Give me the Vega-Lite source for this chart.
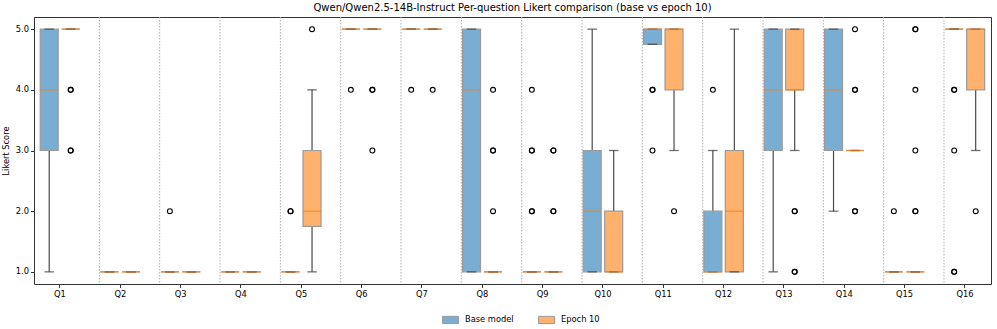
{
  "$schema": "https://vega.github.io/schema/vega-lite/v6.json",
  "width": 957,
  "height": 267,
  "autosize": {"type": "none"},
  "padding": {"left": 34, "top": 17, "right": 6, "bottom": 45},
  "title": {"text": "Qwen/Qwen2.5-14B-Instruct Per-question Likert comparison (base vs epoch 10)", "font": "DejaVu Sans", "fontSize": 10, "fontWeight": "normal", "color": "#000", "offset": 4, "anchor": "middle"},
  "config": {
    "font": "DejaVu Sans",
    "view": {"stroke": "#333", "strokeWidth": 1},
    "axis": {"grid": false, "domain": false, "labelFont": "DejaVu Sans", "labelFontSize": 8.3, "labelColor": "#000", "tickColor": "#333", "tickSize": 3.5, "titleFont": "DejaVu Sans", "titleFontSize": 8.3, "titleFontWeight": "normal", "titleColor": "#000"},
    "legend": {"labelFont": "DejaVu Sans", "labelFontSize": 8.3, "labelColor": "#000"}
  },
  "datasets": {
    "boxes": [
      {"question": "Q1", "group": "Base model", "lo": 1, "q1": 3, "median": 4, "q3": 5, "hi": 5},
      {"question": "Q1", "group": "Epoch 10", "lo": 5, "q1": 5, "median": 5, "q3": 5, "hi": 5},
      {"question": "Q2", "group": "Base model", "lo": 1, "q1": 1, "median": 1, "q3": 1, "hi": 1},
      {"question": "Q2", "group": "Epoch 10", "lo": 1, "q1": 1, "median": 1, "q3": 1, "hi": 1},
      {"question": "Q3", "group": "Base model", "lo": 1, "q1": 1, "median": 1, "q3": 1, "hi": 1},
      {"question": "Q3", "group": "Epoch 10", "lo": 1, "q1": 1, "median": 1, "q3": 1, "hi": 1},
      {"question": "Q4", "group": "Base model", "lo": 1, "q1": 1, "median": 1, "q3": 1, "hi": 1},
      {"question": "Q4", "group": "Epoch 10", "lo": 1, "q1": 1, "median": 1, "q3": 1, "hi": 1},
      {"question": "Q5", "group": "Base model", "lo": 1, "q1": 1, "median": 1, "q3": 1, "hi": 1},
      {"question": "Q5", "group": "Epoch 10", "lo": 1, "q1": 1.75, "median": 2, "q3": 3, "hi": 4},
      {"question": "Q6", "group": "Base model", "lo": 5, "q1": 5, "median": 5, "q3": 5, "hi": 5},
      {"question": "Q6", "group": "Epoch 10", "lo": 5, "q1": 5, "median": 5, "q3": 5, "hi": 5},
      {"question": "Q7", "group": "Base model", "lo": 5, "q1": 5, "median": 5, "q3": 5, "hi": 5},
      {"question": "Q7", "group": "Epoch 10", "lo": 5, "q1": 5, "median": 5, "q3": 5, "hi": 5},
      {"question": "Q8", "group": "Base model", "lo": 1, "q1": 1, "median": 4, "q3": 5, "hi": 5},
      {"question": "Q8", "group": "Epoch 10", "lo": 1, "q1": 1, "median": 1, "q3": 1, "hi": 1},
      {"question": "Q9", "group": "Base model", "lo": 1, "q1": 1, "median": 1, "q3": 1, "hi": 1},
      {"question": "Q9", "group": "Epoch 10", "lo": 1, "q1": 1, "median": 1, "q3": 1, "hi": 1},
      {"question": "Q10", "group": "Base model", "lo": 1, "q1": 1, "median": 2, "q3": 3, "hi": 5},
      {"question": "Q10", "group": "Epoch 10", "lo": 1, "q1": 1, "median": 1, "q3": 2, "hi": 3},
      {"question": "Q11", "group": "Base model", "lo": 4.75, "q1": 4.75, "median": 5, "q3": 5, "hi": 5},
      {"question": "Q11", "group": "Epoch 10", "lo": 3, "q1": 4, "median": 5, "q3": 5, "hi": 5},
      {"question": "Q12", "group": "Base model", "lo": 1, "q1": 1, "median": 1, "q3": 2, "hi": 3},
      {"question": "Q12", "group": "Epoch 10", "lo": 1, "q1": 1, "median": 2, "q3": 3, "hi": 5},
      {"question": "Q13", "group": "Base model", "lo": 1, "q1": 3, "median": 4, "q3": 5, "hi": 5},
      {"question": "Q13", "group": "Epoch 10", "lo": 3, "q1": 4, "median": 4, "q3": 5, "hi": 5},
      {"question": "Q14", "group": "Base model", "lo": 2, "q1": 3, "median": 4, "q3": 5, "hi": 5},
      {"question": "Q14", "group": "Epoch 10", "lo": 3, "q1": 3, "median": 3, "q3": 3, "hi": 3},
      {"question": "Q15", "group": "Base model", "lo": 1, "q1": 1, "median": 1, "q3": 1, "hi": 1},
      {"question": "Q15", "group": "Epoch 10", "lo": 1, "q1": 1, "median": 1, "q3": 1, "hi": 1},
      {"question": "Q16", "group": "Base model", "lo": 5, "q1": 5, "median": 5, "q3": 5, "hi": 5},
      {"question": "Q16", "group": "Epoch 10", "lo": 3, "q1": 4, "median": 5, "q3": 5, "hi": 5}
    ],
    "outliers": [
      {"question": "Q1", "group": "Epoch 10", "score": 4},
      {"question": "Q1", "group": "Epoch 10", "score": 4},
      {"question": "Q1", "group": "Epoch 10", "score": 3},
      {"question": "Q1", "group": "Epoch 10", "score": 3},
      {"question": "Q3", "group": "Base model", "score": 2},
      {"question": "Q5", "group": "Base model", "score": 2},
      {"question": "Q5", "group": "Base model", "score": 2},
      {"question": "Q5", "group": "Epoch 10", "score": 5},
      {"question": "Q6", "group": "Base model", "score": 4},
      {"question": "Q6", "group": "Epoch 10", "score": 4},
      {"question": "Q6", "group": "Epoch 10", "score": 4},
      {"question": "Q6", "group": "Epoch 10", "score": 3},
      {"question": "Q7", "group": "Base model", "score": 4},
      {"question": "Q7", "group": "Epoch 10", "score": 4},
      {"question": "Q8", "group": "Epoch 10", "score": 4},
      {"question": "Q8", "group": "Epoch 10", "score": 3},
      {"question": "Q8", "group": "Epoch 10", "score": 3},
      {"question": "Q8", "group": "Epoch 10", "score": 2},
      {"question": "Q9", "group": "Base model", "score": 4},
      {"question": "Q9", "group": "Base model", "score": 3},
      {"question": "Q9", "group": "Base model", "score": 3},
      {"question": "Q9", "group": "Base model", "score": 2},
      {"question": "Q9", "group": "Base model", "score": 2},
      {"question": "Q9", "group": "Epoch 10", "score": 3},
      {"question": "Q9", "group": "Epoch 10", "score": 3},
      {"question": "Q9", "group": "Epoch 10", "score": 2},
      {"question": "Q9", "group": "Epoch 10", "score": 2},
      {"question": "Q11", "group": "Base model", "score": 4},
      {"question": "Q11", "group": "Base model", "score": 4},
      {"question": "Q11", "group": "Base model", "score": 3},
      {"question": "Q11", "group": "Epoch 10", "score": 2},
      {"question": "Q12", "group": "Base model", "score": 4},
      {"question": "Q13", "group": "Epoch 10", "score": 2},
      {"question": "Q13", "group": "Epoch 10", "score": 2},
      {"question": "Q13", "group": "Epoch 10", "score": 1},
      {"question": "Q13", "group": "Epoch 10", "score": 1},
      {"question": "Q14", "group": "Epoch 10", "score": 5},
      {"question": "Q14", "group": "Epoch 10", "score": 4},
      {"question": "Q14", "group": "Epoch 10", "score": 4},
      {"question": "Q14", "group": "Epoch 10", "score": 2},
      {"question": "Q14", "group": "Epoch 10", "score": 2},
      {"question": "Q15", "group": "Base model", "score": 2},
      {"question": "Q15", "group": "Epoch 10", "score": 5},
      {"question": "Q15", "group": "Epoch 10", "score": 5},
      {"question": "Q15", "group": "Epoch 10", "score": 4},
      {"question": "Q15", "group": "Epoch 10", "score": 3},
      {"question": "Q15", "group": "Epoch 10", "score": 2},
      {"question": "Q15", "group": "Epoch 10", "score": 2},
      {"question": "Q16", "group": "Base model", "score": 4},
      {"question": "Q16", "group": "Base model", "score": 4},
      {"question": "Q16", "group": "Base model", "score": 3},
      {"question": "Q16", "group": "Base model", "score": 1},
      {"question": "Q16", "group": "Base model", "score": 1},
      {"question": "Q16", "group": "Epoch 10", "score": 2}
    ]
  },
  "data": {"name": "boxes"},
  "encoding": {
    "x": {"field": "question", "type": "nominal", "sort": null,
      "scale": {"type": "band", "paddingInner": 0, "paddingOuter": 0, "range": [-4.2, 961.1]},
      "axis": {"title": null, "labelAngle": 0, "labelPadding": 2}},
    "xOffset": {"field": "group", "type": "nominal", "sort": ["Base model", "Epoch 10"],
      "scale": {"domain": ["Base model", "Epoch 10"], "paddingInner": 0, "paddingOuter": 0.403}}
  },
  "layer": [
    {
      "transform": [{"filter": "datum.group === 'Base model' && datum.question !== 'Q16'"}],
      "mark": {"type": "rule", "color": "#b0b0b0", "strokeWidth": 1, "strokeDash": [1.5, 1.5]},
      "encoding": {
        "x": {"field": "question", "type": "nominal", "sort": null, "bandPosition": 1.153},
        "xOffset": null
      }
    },
    {
      "mark": {"type": "rule", "color": "#4a4a4a", "strokeWidth": 1.2},
      "encoding": {
        "y": {"field": "lo", "type": "quantitative",
          "scale": {"domain": [0.8, 5.2], "zero": false, "nice": false},
          "axis": {"title": "Likert Score", "values": [1, 1.5, 2, 2.5, 3, 3.5, 4, 4.5, 5], "format": ".1f", "labelPadding": 2, "titlePadding": 5}},
        "y2": {"field": "hi"}
      }
    },
    {
      "mark": {"type": "bar", "width": 18, "stroke": "#9a9a9a", "strokeWidth": 1.2, "opacity": 1},
      "encoding": {
        "y": {"field": "q1", "type": "quantitative"},
        "y2": {"field": "q3"},
        "color": {"field": "group", "type": "nominal",
          "scale": {"domain": ["Base model", "Epoch 10"], "range": ["#79add2", "#ffb26e"]},
          "legend": {"title": null, "orient": "none", "legendX": 408, "legendY": 294, "direction": "horizontal", "symbolType": "M-1,-0.45H1V0.45H-1Z", "symbolSize": 256, "symbolStrokeColor": "#9a9a9a", "symbolStrokeWidth": 1, "symbolOpacity": 1, "columnPadding": 22, "labelOffset": 6}}
      }
    },
    {
      "mark": {"type": "tick", "size": 9.5, "thickness": 1.3, "color": "#333"},
      "encoding": {"y": {"field": "lo", "type": "quantitative"}}
    },
    {
      "mark": {"type": "tick", "size": 9.5, "thickness": 1.3, "color": "#333"},
      "encoding": {"y": {"field": "hi", "type": "quantitative"}}
    },
    {
      "mark": {"type": "tick", "size": 18, "thickness": 1.4, "color": "#ff7f0e"},
      "encoding": {"y": {"field": "median", "type": "quantitative"}}
    },
    {
      "data": {"name": "outliers"},
      "mark": {"type": "point", "shape": "circle", "size": 24, "filled": false, "stroke": "#000", "strokeWidth": 1.1, "opacity": 1},
      "encoding": {"y": {"field": "score", "type": "quantitative"}}
    }
  ]
}
